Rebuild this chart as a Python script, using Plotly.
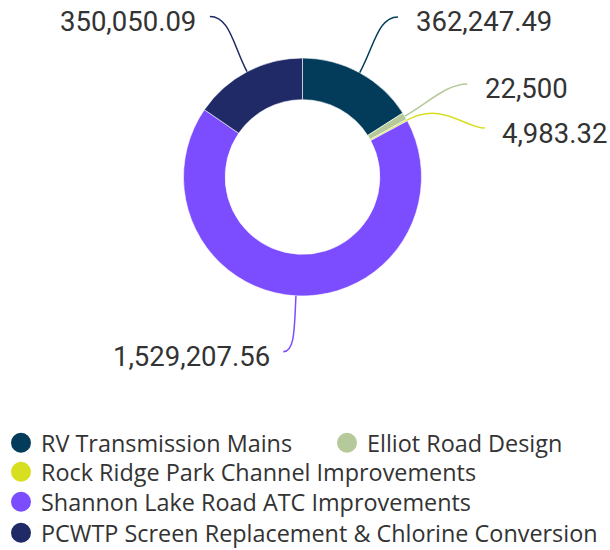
import math
import plotly.graph_objects as go

# ---- data ----
categories = [
    "RV Transmission Mains",
    "Elliot Road Design",
    "Rock Ridge Park Channel Improvements",
    "Shannon Lake Road ATC Improvements",
    "PCWTP Screen Replacement & Chlorine Conversion",
]
values = [362247.49, 22500, 4983.32, 1529207.56, 350050.09]
colors = ["#033c5a", "#b5c99a", "#d8df20", "#7c4dff", "#1f2a66"]


def fmt(v):
    return f"{v:,.2f}".rstrip("0").rstrip(".")


# ---- layout / style constants (page pixel coordinates) ----
W, H = 610, 550
CX, CY, R = 302.5, 177.0, 119.0   # pie centre and outer radius in px
HOLE = 0.65
LABEL_R = 186.0                    # radius where connectors end
label_nudge = [(6, 3), (5, 2), (19, 40), (-9, -11), (-6, 4)]  # label overlap avoidance (px)
TEXT_GAP = [16, 16, 15, 11, 12]
TEXT_DY = 5
# legend slots: (left px, row-centre px) for each entry
legend_slots = [(1, 443), (327, 443), (1, 472), (1, 502), (1, 533)]


def px(x):
    return x / W


def py(y):
    return 1 - y / H


fig = go.Figure()
fig.add_trace(go.Pie(
    labels=categories,
    values=values,
    marker=dict(colors=colors, line=dict(color="white", width=0.6)),
    hole=HOLE,
    sort=False,
    direction="clockwise",
    rotation=0,
    textinfo="none",
    showlegend=False,
    domain=dict(x=[px(CX - R), px(CX + R)], y=[py(CY + R), py(CY - R)]),
))

legend_font = dict(family="Open Sans", size=23.4, color="#333333")
legend_layouts = {}
for i, (cat, col) in enumerate(zip(categories, colors)):
    lname = "legend" if i == 0 else f"legend{i + 1}"
    fig.add_trace(go.Scatter(
        x=[None], y=[None], mode="markers", name=cat, legend=lname,
        marker=dict(color=col, size=16, symbol="circle", line=dict(color=col, width=4)),
    ))
    lx, ly = legend_slots[i]
    legend_layouts[lname] = dict(
        orientation="h", x=px(lx), xanchor="left", y=py(ly), yanchor="middle",
        font=legend_font, bgcolor="rgba(0,0,0,0)",
        itemclick=False, itemdoubleclick=False,
    )

# connectors & labels computed from the data
total = sum(values)
cum = 0.0
shapes = []
annotations = []
for i, v in enumerate(values):
    mid = (cum + v / 2) / total * 2 * math.pi
    cum += v
    s, c = math.sin(mid), math.cos(mid)
    x0, y0 = CX + R * s, CY - R * c
    ex = CX + LABEL_R * s + label_nudge[i][0]
    ey = CY - LABEL_R * c + label_nudge[i][1]
    side = 1 if ex >= CX else -1
    a = 40 if i == 2 else 30
    x1, y1 = x0 + a * s, y0 - a * c
    x2, y2 = ex - side * (20 if i != 3 else 12), ey
    path = (f"M {px(x0)},{py(y0)} C {px(x1)},{py(y1)} {px(x2)},{py(y2)} {px(ex)},{py(ey)}")
    shapes.append(dict(type="path", xref="paper", yref="paper", path=path,
                       line=dict(color=colors[i], width=1.5)))
    annotations.append(dict(
        xref="paper", yref="paper",
        x=px(ex + side * TEXT_GAP[i]), y=py(ey + TEXT_DY),
        xanchor="left" if side > 0 else "right", yanchor="middle",
        text=fmt(v), showarrow=False,
        font=dict(family="Roboto", size=27.5, color="#333333"),
    ))

fig.update_layout(
    width=W, height=H,
    margin=dict(l=0, r=0, t=0, b=0, autoexpand=False),
    paper_bgcolor="white", plot_bgcolor="white",
    xaxis=dict(visible=False), yaxis=dict(visible=False),
    shapes=shapes, annotations=annotations,
    hovermode=False,
    **legend_layouts,
)

fig.write_html("out.html", config={"displayModeBar": False},
               post_script="document.body.style.margin='0';")
